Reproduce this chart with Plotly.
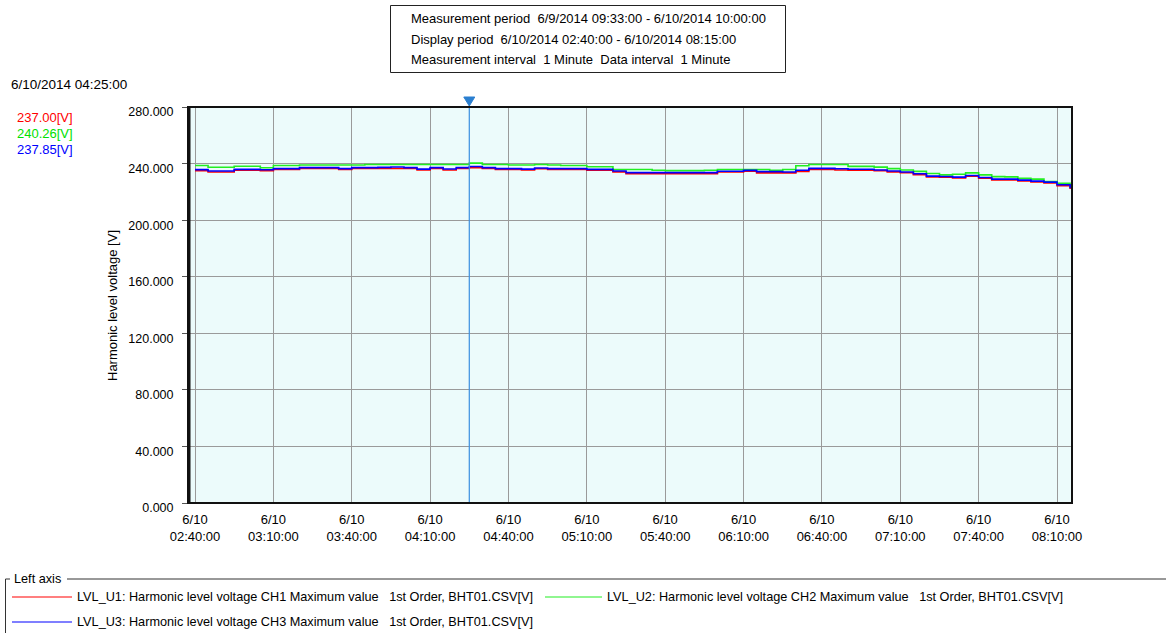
import pandas as pd
import plotly.graph_objects as go

# ---------------- data ----------------
start_time = "2014-06-10 02:40:00"
n_points = 68  # 5-minute samples 02:40 .. 08:15
times = pd.date_range(start_time, periods=n_points, freq="5min")

lvl_u1 = [235.0, 234.0, 234.0, 235.3, 235.3, 235.0, 235.8, 235.8, 236.5, 236.5,
          236.5, 235.8, 236.5, 236.5, 236.5, 236.5, 236.5, 235.5, 236.5, 235.5,
          236.5, 237.0, 236.5, 235.8, 235.8, 235.5, 236.3, 235.8, 235.8, 235.8,
          235.3, 235.3, 234.1, 232.9, 232.9, 232.9, 232.9, 232.9, 232.9, 232.9,
          234.1, 234.1, 234.6, 233.4, 233.4, 233.4, 234.5, 235.8, 235.8, 235.5,
          235.4, 235.4, 235.0, 234.1, 233.5, 232.2, 230.5, 230.3, 229.8, 231.0,
          229.6, 228.4, 228.4, 227.7, 227.0, 226.3, 224.4, 222.0]
lvl_u2 = [238.6, 237.4, 237.4, 238.1, 238.1, 237.0, 238.6, 238.6, 239.0, 239.0,
          239.0, 239.0, 239.0, 239.3, 239.3, 239.3, 239.3, 239.3, 239.3, 239.3,
          239.3, 240.3, 239.3, 239.3, 239.0, 239.0, 239.3, 239.0, 238.6, 238.6,
          237.7, 237.7, 235.8, 235.8, 235.8, 235.3, 235.0, 235.0, 235.0, 235.3,
          235.8, 235.8, 235.8, 235.8, 235.3, 235.8, 238.5, 239.3, 239.3, 239.3,
          238.0, 238.0, 237.5, 236.4, 235.5, 234.5, 233.0, 232.0, 232.5, 233.4,
          232.0, 230.8, 230.6, 229.5, 229.0, 227.3, 226.0, 223.5]
lvl_u3 = [235.7, 234.8, 234.8, 235.9, 235.9, 235.6, 236.4, 236.4, 237.1, 237.1,
          237.1, 236.4, 237.1, 237.1, 237.3, 237.6, 237.1, 236.1, 237.1, 236.2,
          237.1, 237.9, 237.1, 236.4, 236.4, 236.1, 236.9, 236.4, 236.4, 236.4,
          235.9, 235.9, 234.8, 233.6, 233.6, 233.6, 233.6, 233.6, 233.6, 233.6,
          234.6, 234.6, 235.2, 234.3, 234.3, 234.0, 235.3, 236.6, 236.6, 236.3,
          236.0, 236.0, 235.5, 234.7, 234.0, 232.8, 231.1, 230.9, 230.4, 231.6,
          230.2, 229.0, 229.0, 228.3, 227.6, 226.9, 225.0, 222.6]

series_names = [
    "LVL_U1: Harmonic level voltage CH1 Maximum value   1st Order, BHT01.CSV[V]",
    "LVL_U2: Harmonic level voltage CH2 Maximum value   1st Order, BHT01.CSV[V]",
    "LVL_U3: Harmonic level voltage CH3 Maximum value   1st Order, BHT01.CSV[V]",
]
series_colors = ["#ff0000", "#22ee22", "#0000ff"]

x_tickvals = pd.date_range("2014-06-10 02:40:00", "2014-06-10 08:10:00", freq="30min")
x_ticktext = [f"6/10<br>{t.strftime('%H:%M:%S')}" for t in x_tickvals]
y_tickvals = [0, 40, 80, 120, 160, 200, 240, 280]
y_ticktext = [f"{v:.3f}" for v in y_tickvals]

cursor_time = pd.Timestamp("2014-06-10 04:25:00")
cursor_values = ["237.00[V]", "240.26[V]", "237.85[V]"]

info_lines = [
    "Measurement period  6/9/2014 09:33:00 - 6/10/2014 10:00:00",
    "Display period  6/10/2014 02:40:00 - 6/10/2014 08:15:00",
    "Measurement interval  1 Minute  Data interval  1 Minute",
]

# ---------------- figure ----------------
W, H = 1166, 633
L, R, T, B = 188, 94, 107, 130
pw, ph = W - L - R, H - T - B


def px(x):
    """screen x -> paper fraction"""
    return (x - L) / pw


def py(y):
    """screen y -> paper fraction"""
    return (H - B - y) / ph


FONT = "Liberation Sans, Arial, sans-serif"

fig = go.Figure()
for vals, name, col in zip([lvl_u1, lvl_u2, lvl_u3], series_names, series_colors):
    fig.add_trace(go.Scatter(x=times, y=vals, mode="lines", name=name,
                             line=dict(color=col, width=1.6, shape="hv"),
                             showlegend=False))

# cursor line
fig.add_trace(go.Scatter(x=[cursor_time, cursor_time], y=[0, 280], mode="lines",
                         line=dict(color="#3a8fe0", width=1.2), showlegend=False,
                         hoverinfo="skip"))

x0 = pd.Timestamp("2014-06-10 02:37:19")
x1 = pd.Timestamp("2014-06-10 08:15:44")

fig.update_layout(
    width=W, height=H,
    margin=dict(l=L, r=R, t=T, b=B, pad=0),
    paper_bgcolor="white",
    plot_bgcolor="#ecfbfb",
    font=dict(family=FONT, size=13, color="#000000"),
    showlegend=False,
    xaxis=dict(range=[x0, x1], tickvals=list(x_tickvals), ticktext=x_ticktext,
               showgrid=True, gridcolor="#9a9a9a", gridwidth=1,
               showline=False, zeroline=False, ticks="", ticklabelstandoff=7,
               tickfont=dict(family=FONT, size=13)),
    yaxis=dict(range=[0, 280], tickvals=y_tickvals, ticktext=y_ticktext,
               showgrid=True, gridcolor="#9a9a9a", gridwidth=1,
               showline=False, zeroline=False, ticks="outside", ticklen=5,
               tickcolor="#555555", ticklabelshift=5, ticklabelstandoff=6,
               tickfont=dict(family=FONT, size=12.5)),
)

shapes = []
# plot border
shapes.append(dict(type="rect", xref="paper", yref="paper", x0=0, x1=1, y0=0, y1=1,
                   line=dict(color="#111111", width=2), layer="above"))
shapes.append(dict(type="line", xref="paper", yref="paper", x0=px(189.5), x1=px(189.5),
                   y0=0, y1=1, line=dict(color="#111111", width=2), layer="above"))
# cursor marker triangle (above plot)
cfrac = (cursor_time - x0) / (x1 - x0)
tri_top, tri_tip, half = py(97), py(106), 5.5 / pw
shapes.append(dict(type="path", xref="paper", yref="paper",
                   path=f"M {cfrac - half} {tri_top} L {cfrac + half} {tri_top} L {cfrac} {tri_tip} Z",
                   fillcolor="#2a7fd0", line=dict(color="#2a7fd0", width=1)))
# legend group box
shapes.append(dict(type="line", xref="paper", yref="paper", x0=px(5.5), x1=px(5.5),
                   y0=py(579), y1=py(640), line=dict(color="#333333", width=1)))
shapes.append(dict(type="line", xref="paper", yref="paper", x0=px(5.5), x1=px(10),
                   y0=py(579), y1=py(579), line=dict(color="#333333", width=1)))
shapes.append(dict(type="line", xref="paper", yref="paper", x0=px(67), x1=px(1170),
                   y0=py(579), y1=py(579), line=dict(color="#333333", width=1)))
# legend line samples
legend_pos = [(12, 72, 597), (545, 602, 597), (12, 72, 622)]
for (lx0, lx1, ly), col in zip(legend_pos, series_colors):
    shapes.append(dict(type="line", xref="paper", yref="paper", x0=px(lx0), x1=px(lx1),
                       y0=py(ly), y1=py(ly), line=dict(color=col, width=1.2)))
# info box
shapes.append(dict(type="rect", xref="paper", yref="paper", x0=px(390.5), x1=px(785.5),
                   y0=py(72.5), y1=py(5.5), line=dict(color="#222222", width=1)))
fig.update_layout(shapes=shapes)

ann = []
for i, line in enumerate(info_lines):
    ann.append(dict(text=line, xref="paper", yref="paper", x=px(409), y=py(18 + 21 * i),
                    xanchor="left", yanchor="middle", showarrow=False,
                    font=dict(family=FONT, size=13)))
ann.append(dict(text="6/10/2014 04:25:00", xref="paper", yref="paper", x=px(9), y=py(85),
                xanchor="left", yanchor="middle", showarrow=False, font=dict(family=FONT, size=13.5)))
for i, (v, col) in enumerate(zip(cursor_values, ["#ff0000", "#00e000", "#0000ff"])):
    ann.append(dict(text=v, xref="paper", yref="paper", x=px(15), y=py(117 + 16 * i),
                    xanchor="left", yanchor="middle", showarrow=False,
                    font=dict(family=FONT, size=13, color=col)))
ann.append(dict(text="Harmonic level voltage [V]", xref="paper", yref="paper",
                x=px(112), y=py(306), textangle=-90, xanchor="center", yanchor="middle",
                showarrow=False, font=dict(family=FONT, size=13)))
ann.append(dict(text="Left axis", xref="paper", yref="paper", x=px(12), y=py(579),
                xanchor="left", yanchor="middle", showarrow=False, font=dict(family=FONT, size=12.7)))
legend_text_pos = [(75, 597), (605, 597), (75, 622)]
for (tx, ty), name in zip(legend_text_pos, series_names):
    ann.append(dict(text=name.replace("   ", "&nbsp;&nbsp; "), xref="paper", yref="paper",
                    x=px(tx), y=py(ty), xanchor="left", yanchor="middle", showarrow=False,
                    font=dict(family=FONT, size=12.7)))
fig.update_layout(annotations=ann)

fig.write_html("out.html", config={"displayModeBar": False},
               post_script="document.body.style.margin='0px';document.body.style.overflow='hidden';")
